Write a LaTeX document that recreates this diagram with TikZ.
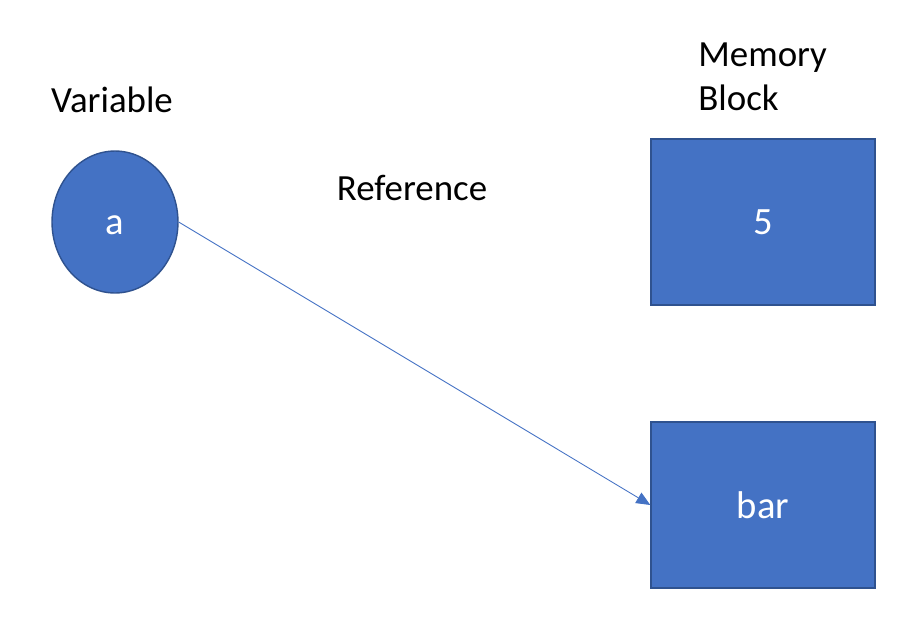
\documentclass[tikz,border=0pt]{standalone}
\usepackage{fontspec}
\setmainfont{Carlito}
\usetikzlibrary{shapes.geometric,arrows.meta}
\definecolor{blockblue}{HTML}{4472C4}
\definecolor{blockedge}{HTML}{2F528F}
\begin{document}
\begin{tikzpicture}[x=0.02cm, y=-0.02cm, >={Triangle[length=0.28cm,width=0.24cm]},
    font=\fontsize{21}{25.5}\selectfont,
    block/.style={draw=blockedge, line width=0.8pt, fill=blockblue, text=white, font=\fontsize{22}{26}\selectfont, minimum width=4.48cm, minimum height=3.32cm, inner sep=0pt},
    var/.style={ellipse, draw=blockedge, line width=0.8pt, fill=blockblue, text=white, font=\fontsize{22}{26}\selectfont, text height=14pt, text depth=0pt, minimum width=2.52cm, minimum height=2.84cm, inner sep=0pt}]
			% Rahmen
			\useasboundingbox (0,0) rectangle (916,630);
			% Variable
			\node[var] (a) at (115,222) {a};
			\node (varlabel) at (112,100) {Variable};
			% Speicherbloecke
			\node[block] (five) at (763,222) {5};
			\node[block] (bar) at (763,505) {bar};
			\node[align=left, anchor=north west, inner sep=0pt] (memlabel) at (698,42) {Memory\\Block};
			% Referenz
			\node (reflabel) at (412,188) {Reference};
			\draw[->, blockblue, line width=0.5pt] (a.east) -- (bar.west);
		\end{tikzpicture}
\end{document}
